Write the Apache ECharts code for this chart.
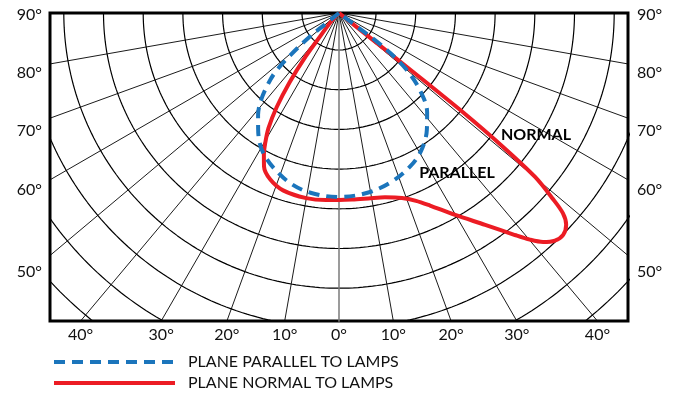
<!DOCTYPE html>
<html><head><meta charset="utf-8">
<script src="https://cdn.jsdelivr.net/npm/echarts@6/dist/echarts.min.js"></script>
<style>html,body{margin:0;padding:0;background:#fff}#c{width:675px;height:399px}</style>
</head><body><div id="c"></div>
<script>
// ---- data (polar: angle in degrees from nadir, intensity in chart units) ----
const parallelAngles = [-52, -51, -51, -49, -47, -44.5, -42, -38.5, -35, -31.5, -28, -23, -16, -9, 0, 9, 17, 25, 31, 37, 41.5, 46.5, 50, 52, 53, 53, 53];
const parallelValues = [0, 20, 37, 65, 88, 103, 116, 130, 141, 152, 160, 168, 177, 182, 184, 182, 177, 169, 160, 146, 133, 111, 88, 65, 45, 25, 0];

const normalAngles = [-42, -42, -39, -37.5, -35.5, -33.5, -31.5, -29.5, -28, -26, -22.5, -17.5, -10, -4, 0, 4, 9, 14, 18.8, 22.3, 25.3, 29.9, 34.6, 38.4, 40.1, 41.7, 43.5, 45.3, 47, 48.2, 49, 50.1, 50.8, 51.3, 51.5, 51.5, 52];
const normalValues = [0, 15, 30, 55, 85, 113, 135, 150, 160, 171, 180, 186, 188, 187.5, 187, 187, 187.8, 190, 195.4, 203, 213, 233, 257.4, 283.3, 296.3, 306.7, 313.7, 315.4, 310.6, 300.3, 283.5, 255.6, 210, 160, 100, 40, 0];

const bottomTickAngles = [-40, -30, -20, -10, 0, 10, 20, 30, 40];
const bottomTickLabels = ['40°', '30°', '20°', '10°', '0°', '10°', '20°', '30°', '40°'];
const sideTickLabels = ['90°', '80°', '70°', '60°', '50°'];
const sideTickPositions = [-2, -60, -118, -177, -259];

const seriesNames = ['PLANE PARALLEL TO LAMPS', 'PLANE NORMAL TO LAMPS'];
const annotationNames = ['PARALLEL', 'NORMAL'];
const annotationAnchors = [[118, -160], [197, -122]];

// ---- chart geometry (scale) ----
const X_HALF = 289, Y_DEPTH = 308;
const RING_FIRST = 37, RING_STEP = 39.7, RING_COUNT = 11;
const RADIAL_STEP = 10;
const FONT = 'Lato, "Open Sans", sans-serif';
const BLUE = '#1b75bc', RED = '#ec1c24';

const rad = d => d * Math.PI / 180;
const toXY = (a, r) => [r * Math.sin(rad(a)), -r * Math.cos(rad(a))];

const series = [];
for (let k = 0; k < RING_COUNT; k++) {
  const R = RING_FIRST + RING_STEP * k;
  const pts = [];
  for (let t = -90; t <= 90; t += 1) pts.push(toXY(t, R));
  series.push({type: 'line', data: pts, symbol: 'none', silent: true, z: 1,
    lineStyle: {color: '#000', width: 1.2}, animation: false});
}
for (let a = -90 + RADIAL_STEP; a < 90; a += RADIAL_STEP) {
  series.push({type: 'line', data: [[0, 0], toXY(a, 700)], symbol: 'none', silent: true, z: 1,
    lineStyle: {color: a === 0 ? '#7a7a7a' : '#000', width: a === 0 ? 1.5 : 0.9}, animation: false});
}
series.push({
  name: seriesNames[0], type: 'line', symbol: 'none', smooth: 0.35, z: 5, animation: false,
  data: parallelAngles.map((a, i) => toXY(a, parallelValues[i])),
  lineStyle: {color: BLUE, width: 4, type: [11, 7]}, itemStyle: {color: BLUE},
  markPoint: {symbol: 'circle', symbolSize: 0, animation: false,
    label: {show: true, formatter: annotationNames[0], fontFamily: FONT, fontWeight: 'bold', fontSize: 16, color: '#000'},
    data: [{coord: annotationAnchors[0]}]}
});
series.push({
  name: seriesNames[1], type: 'line', symbol: 'none', smooth: 0.3, z: 4, animation: false,
  data: normalAngles.map((a, i) => toXY(a, normalValues[i])),
  lineStyle: {color: RED, width: 4}, itemStyle: {color: RED},
  markPoint: {symbol: 'circle', symbolSize: 0, animation: false,
    label: {show: true, formatter: annotationNames[1], fontFamily: FONT, fontWeight: 'bold', fontSize: 16, color: '#000'},
    data: [{coord: annotationAnchors[1]}]}
});

const bottomTickValues = bottomTickAngles.map(a => Y_DEPTH * Math.tan(rad(a)));
const nearestIdx = (arr, v) => { let b = 0; arr.forEach((x, i) => { if (Math.abs(x - v) < Math.abs(arr[b] - v)) b = i; }); return b; };

const sideAxis = pos => ({
  type: 'value', position: pos, min: -Y_DEPTH, max: 0,
  axisLine: {show: false}, axisTick: {show: false}, splitLine: {show: false},
  axisLabel: {customValues: sideTickPositions, margin: pos === 'left' ? 8 : 9,
    formatter: v => sideTickLabels[nearestIdx(sideTickPositions, v)],
    fontFamily: FONT, fontSize: 16, color: '#111'}
});

const chart = echarts.init(document.getElementById('c'), null, {renderer: 'canvas'});
chart.setOption({
  animation: false,
  grid: {left: 50, right: 47, top: 13, bottom: 78, show: true, borderColor: '#000', borderWidth: 3, backgroundColor: 'transparent'},
  xAxis: {type: 'value', min: -X_HALF, max: X_HALF,
    axisLine: {show: false}, axisTick: {show: false}, splitLine: {show: false},
    axisLabel: {customValues: bottomTickValues, margin: 6,
      formatter: v => bottomTickLabels[nearestIdx(bottomTickValues, v)],
      fontFamily: FONT, fontSize: 16, color: '#111'}},
  yAxis: [sideAxis('left'), sideAxis('right')],
  legend: {data: seriesNames, orient: 'vertical', left: 52, top: 354, padding: 0, itemWidth: 121, itemHeight: 14, itemGap: 5,
    itemStyle: {opacity: 0}, lineStyle: {width: 4},
    textStyle: {fontFamily: FONT, fontSize: 16, color: '#111', padding: [0, 0, 0, 8]}, selectedMode: false},
  series
});
</script></body></html>
